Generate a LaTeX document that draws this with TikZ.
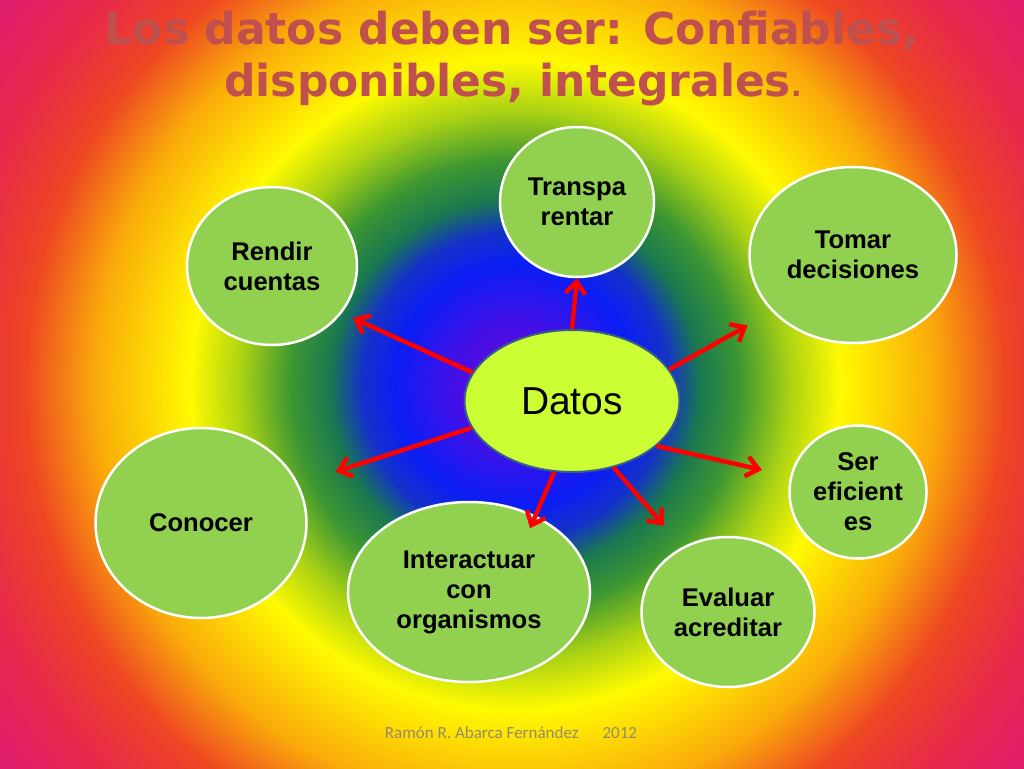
\documentclass[tikz,border=0pt]{standalone}
\usepackage{fontspec}
\setmainfont{Liberation Sans}
\newfontfamily\titlefont{DejaVu Sans}
\newfontfamily\footfont{Carlito}
\usepackage{xcolor}
\usetikzlibrary{shapes,arrows,positioning,calc,arrows.meta}

% background colours
\definecolor{rbViolet}{RGB}{100,10,215}
\definecolor{rbIndigo}{RGB}{70,15,230}
\definecolor{rbBlue}{RGB}{10,30,245}
\definecolor{rbNavy}{RGB}{20,50,200}
\definecolor{rbTeal}{RGB}{25,120,80}
\definecolor{rbGreen}{RGB}{60,150,50}
\definecolor{rbLime}{RGB}{170,210,20}
\definecolor{rbYellow}{RGB}{255,250,0}
\definecolor{rbOrange}{RGB}{250,170,10}
\definecolor{rbRed}{RGB}{238,70,35}
\definecolor{rbPink}{RGB}{232,40,75}
\definecolor{rbMagenta}{RGB}{222,25,120}
% diagram colours
\definecolor{leafgreen}{RGB}{146,208,80}
\definecolor{limegreen}{RGB}{204,255,51}
\definecolor{coreedge}{RGB}{56,93,138}
\definecolor{arrowred}{RGB}{255,0,0}
\definecolor{titlered}{RGB}{192,80,77}
\definecolor{footgray}{RGB}{150,140,100}

\pgfdeclareradialshading{rainbow}{\pgfpoint{0bp}{0bp}}{%
  color(0bp)=(rbViolet); color(2.1bp)=(rbIndigo); color(4.3bp)=(rbBlue);
  color(5.5bp)=(rbNavy); color(6.6bp)=(rbTeal); color(8.0bp)=(rbGreen);
  color(9.8bp)=(rbLime); color(11.6bp)=(rbYellow); color(15.0bp)=(rbOrange);
  color(17.5bp)=(rbRed); color(20.2bp)=(rbPink); color(23.5bp)=(rbMagenta);
  color(50bp)=(rbMagenta)}

\tikzset{
  goal/.style={ellipse, draw=white, line width=2.5pt, fill=leafgreen, inner sep=0pt,
    align=center, font=\bfseries\fontsize{25.6}{30}\selectfont},
  core/.style={ellipse, draw=coreedge, line width=2pt, fill=limegreen, inner sep=0pt,
    font=\fontsize{39}{44}\selectfont},
  spoke/.style={draw=arrowred, line width=4.5pt, -{Straight Barb[length=12pt,width=20pt]}},
  headline/.style={anchor=base, text=titlered, font=\titlefont\bfseries\fontsize{44}{48}\selectfont},
}

\begin{document}
\begin{tikzpicture}[x=1pt,y=-1pt]
    \useasboundingbox (0,0) rectangle (1024,768);

    % Background
    \begin{scope}
        \clip (0,0) rectangle (1024,768);
        \shade[shading=rainbow] (-185,-315) rectangle (1215,1085);
    \end{scope}

    % Title
    \node[headline] (T1) at (512,45) {Los datos deben ser: Confiables,};
    \node[headline] (T2) at (513,96) {disponibles, integrales{\fontsize{28}{28}\selectfont.}};

    % Centre and goals
    \node[core, minimum width=215pt, minimum height=142pt] (datos) at (572,401) {Datos};
    \node[goal, minimum width=154pt, minimum height=150pt] (trans) at (577,202) {Transpa\\rentar};
    \node[goal, minimum width=170pt, minimum height=158pt] (rendir) at (272,266) {Rendir\\cuentas};
    \node[goal, minimum width=207pt, minimum height=176pt] (tomar) at (853,255) {Tomar\\decisiones};
    \node[goal, minimum width=211pt, minimum height=190pt] (conocer) at (201,523) {Conocer};
    \node[goal, minimum width=137pt, minimum height=133pt] (ser) at (858,492) {Ser\\eficient\\es};
    \node[goal, minimum width=242pt, minimum height=180pt] (inter) at (469,592) {Interactuar\\con\\organismos};
    \node[goal, minimum width=173pt, minimum height=150pt] (evaluar) at (728,612) {Evaluar\\acreditar};

    % Arrows
    \draw[spoke] (datos.90) -- (trans.south);
    \draw[spoke, shorten >=12pt] (datos.164) -- (rendir.-34);
    \draw[spoke, shorten >=28pt] (datos.18) -- (tomar.215);
    \draw[spoke, shorten >=39pt] (datos.195) -- (conocer.22);
    \draw[spoke, shorten >=29pt] (datos.-28) -- (ser.167);
    \draw[spoke, shorten >=-14pt] (datos.256) -- (inter.49);
    \draw[spoke, shorten >=28pt] (datos.302) -- (evaluar.125);

    % Footer
    \node[anchor=base, text=footgray, font=\footfont\fontsize{17}{20}\selectfont] (foot) at (511,738)
        {Ramón R. Abarca Fernández\hspace{24pt}2012};
\end{tikzpicture}
\end{document}
